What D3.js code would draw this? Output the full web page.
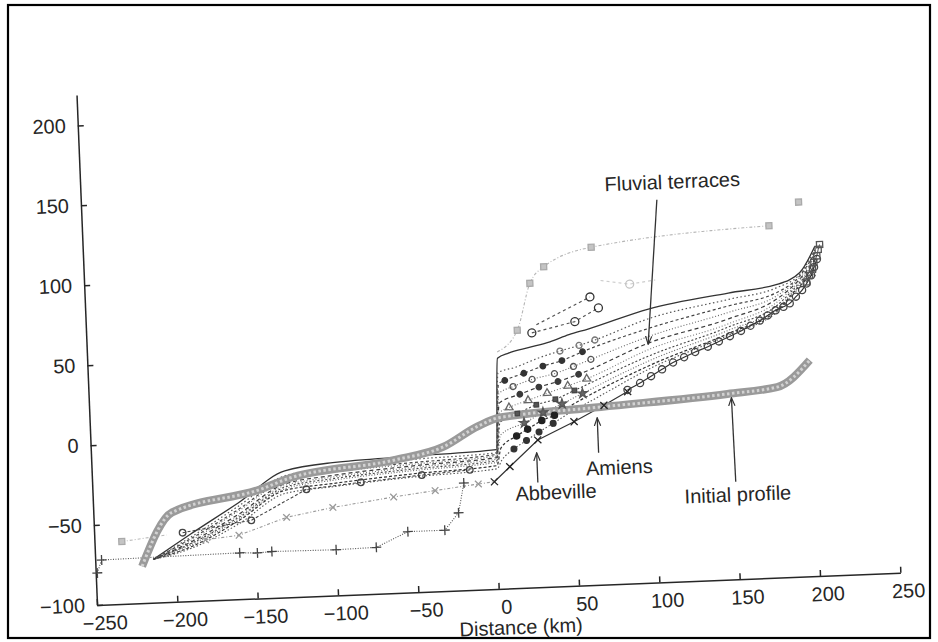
<!DOCTYPE html>
<html>
<head>
<meta charset="utf-8">
<script src="https://cdn.jsdelivr.net/npm/d3@7"></script>
<style>
body { margin: 0; background: #fff; }
svg text { font-family: "Liberation Sans", Arial, Helvetica, sans-serif; }
</style>
</head>
<body>
<div class="chart"></div>
<script>
// tick labels
const xTicks = [-250, -200, -150, -100, -50, 0, 50, 100, 150, 200, 250];
const yTicks = [-100, -50, 0, 50, 100, 150, 200];

// initial profile (thick grey band)
const initialProfile = [[-221, -77], [-201, -44], [-146, -32], [-125, -25], [-62, -17], [-31, -10], [-9, 2], [5, 7], [68, 11], [147, 16], [178, 19], [199, 35]];

// fluvial terraces, top to bottom
const terrace0 = [[-214, -73], [-190, -58], [-160, -40], [-130, -21], [-100, -17], [-50, -15], [2, -13], [5, 44], [12, 47], [25, 50], [38, 53], [50, 57], [62, 60], [100, 71], [150, 79], [180, 83], [195, 90], [205, 106]];
const terrace1 = [[-214, -73], [-190, -60], [-160, -42], [-130, -24], [-100, -20], [-50, -17], [2, -15], [5, 35], [16, 38], [30, 43], [44, 47], [56, 50], [66, 53], [100, 65], [150, 75], [180, 81], [195, 89], [205, 104]];
const terrace2 = [[-214, -73], [-190, -61], [-160, -44], [-130, -26], [-100, -22], [-50, -19], [2, -16], [5, 28], [9, 30], [21, 34], [33, 38], [45, 41], [58, 46], [100, 59], [150, 71], [180, 78], [195, 88], [205, 102]];
const terrace3 = [[-214, -73], [-190, -62], [-160, -45], [-130, -27], [-100, -23], [-50, -20], [2, -17], [5, 22], [14, 26], [26, 30], [40, 33], [52, 37], [63, 41], [100, 54], [150, 67], [180, 76], [195, 87], [205, 100]];
const terrace4 = [[-214, -73], [-190, -63], [-160, -47], [-130, -29], [-100, -25], [-50, -21], [2, -18], [5, 16], [18, 21], [30, 25], [42, 28], [55, 32], [100, 50], [150, 63], [180, 74], [195, 86], [205, 98]];
const terrace5 = [[-214, -73], [-190, -64], [-160, -48], [-130, -30], [-100, -26], [-50, -22], [2, -19], [5, 10], [11, 13], [23, 17], [35, 21], [48, 25], [60, 29], [100, 46], [150, 60], [180, 72], [195, 85], [205, 96]];
const terrace6 = [[-214, -73], [-190, -64], [-160, -49], [-130, -31], [-100, -27], [-50, -23], [2, -20], [5, 4], [16, 9], [28, 14], [40, 17], [52, 22], [100, 42], [150, 58], [180, 70], [195, 84], [205, 94]];
const terrace7 = [[-214, -73], [-190, -65], [-160, -50], [-130, -32], [-100, -28], [-50, -24], [2, -21], [5, -4], [20, 3], [32, 9], [44, 14], [57, 20], [100, 39], [150, 56], [180, 68], [195, 83], [205, 92]];
const terrace8 = [[-214, -73], [-190, -66], [-160, -51], [-130, -33], [-100, -30], [-50, -26], [2, -23], [5, -12], [15, -5], [22, -1], [31, 4], [39, 7], [52, 14], [100, 36], [150, 54], [180, 67], [195, 82], [205, 90]];
const terrace9 = [[-214, -73], [-190, -67], [-160, -53], [-130, -35], [-100, -32], [-50, -28], [2, -25], [5, -20], [13, -13], [21, -8], [29, -3], [38, 2], [50, 9], [62, 15], [100, 34], [150, 53], [180, 66], [195, 81], [205, 88]];

// other profiles
const circleLine = [[-195, -57], [-152, -51], [-117, -33], [-83, -30], [-45, -27], [-15, -25]];
const plusLine = [[-249, -80], [-246, -72], [-160, -71], [-149, -71.5], [-140, -71], [-100, -71.5], [-75, -71], [-55, -62], [-32, -62], [-23, -51.5], [-19, -33]];
const crossLeft = [[-181, -62], [-160, -60], [-130, -50], [-101, -45], [-63, -40], [-37, -37], [-10, -34], [0, -33]];
const crossRight = [[0, -33], [10, -24], [28, -8], [51, 2.5], [70, 12], [85, 20]];
const lowCircles = [[85, 21], [93, 25], [100, 29], [107, 33], [114, 37], [121, 40], [128, 43], [136, 46], [143, 49], [150, 52], [157, 55], [163, 58], [169, 61], [174, 64], [179, 67], [184, 69], [188, 71], [192, 75], [196, 79], [199, 83], [202, 88], [204, 93], [206, 98]];
const endSquares = [[199, 84], [201, 88], [203, 92], [204, 96], [206, 100], [207, 104], [208, 107]];
const greyUpper = [[5, 48], [18, 61], [27, 90], [36, 100], [66, 111], [177, 120]];
const greySingle = [[196, 134]];
const greyLeft = [[-233, -61], [-205, -58]];
const paleCircles = [[71, 90], [89, 87], [105, 89]];
const upperCircles1 = [[27, 59], [54, 65], [69, 73]];
const upperCircles2 = [[30, 64], [64, 80]];

// annotations
const notes = ['Fluvial terraces', 'Initial profile', 'Amiens', 'Abbeville'];
const noteAt = [[118, 150], [151, -47], [78, -27], [38, -41]];
const arrowFrom = [[108, 139], [150, -39], [65.5, -17.5], [27, -34.5]];
const arrowTo = [[99, 49], [149.4, 13.5], [65.5, 4.4], [27, -16]];

const w = 938;
const h = 642;

const svg = d3.select('.chart')
    .append('svg')
    .attr('width', w)
    .attr('height', h);

svg.append('rect')
    .attr('x', 8).attr('y', 5)
    .attr('width', 922).attr('height', 633)
    .attr('fill', 'none')
    .attr('stroke', '#000')
    .attr('stroke-width', 2.2);

const xScale = d3.scaleLinear().domain([-250, 250]).range([97, 901]);
const yScale = d3.scaleLinear().domain([-100, 200]).range([605, 125]);
const yAxisScale = d3.scaleLinear().domain([-100, 219]).range([yScale(-100), yScale(219)]);

// the scanned figure is slightly tilted
const g = svg.append('g').attr('transform', 'rotate(-2.3,97,605)');

const yAxis = d3.axisLeft(yAxisScale).tickValues(yTicks).tickSizeInner(-6).tickSizeOuter(0).tickPadding(12);
const xAxis = d3.axisBottom(xScale).tickValues(xTicks).tickSizeInner(-6).tickSizeOuter(0).tickPadding(11);

g.append('g')
    .attr('transform', 'translate(' + xScale(-250) + ',0)')
    .call(yAxis)
    .attr('font-size', 20)
    .attr('font-family', '"Liberation Sans", Arial, sans-serif')
    .attr('color', '#262626')
    .call(a => a.selectAll('path, line').attr('stroke-width', 1.5));

g.append('g')
    .attr('transform', 'translate(0,' + yScale(-100) + ')')
    .call(xAxis)
    .attr('font-size', 20)
    .attr('font-family', '"Liberation Sans", Arial, sans-serif')
    .attr('color', '#262626')
    .call(a => a.selectAll('path, line').attr('stroke-width', 1.5))
    .call(a => a.selectAll('text').attr('dx', 7));

g.append('text')
    .attr('x', xScale(13))
    .attr('y', yScale(-100) + 46)
    .attr('text-anchor', 'middle')
    .attr('font-size', 20)
    .attr('fill', '#262626')
    .text('Distance (km)');

const line = d3.line().x(d => xScale(d[0])).y(d => yScale(d[1]));
const smooth = d3.line().x(d => xScale(d[0])).y(d => yScale(d[1])).curve(d3.curveMonotoneX);

const symTimes = d3.symbolTimes || d3.symbolCross;
const symPlus = d3.symbolPlus || d3.symbolCross;

const styles = [
    { data: terrace0, stroke: '#333', width: 1.3, dash: null, curve: smooth },
    { data: terrace1, stroke: '#555', width: 1.2, dash: '1.5,2.5', curve: smooth, sym: d3.symbolCircle, size: 28, fill: 'none', ms: '#777', from: 40, to: 66 },
    { data: terrace2, stroke: '#444', width: 1.2, dash: '3,2.5', curve: smooth, sym: d3.symbolCircle, size: 24, fill: '#333', ms: '#333', from: 8, to: 60 },
    { data: terrace3, stroke: '#666', width: 1.1, dash: '1,2', curve: smooth, sym: d3.symbolCircle, size: 28, fill: 'none', ms: '#555', from: 12, to: 64 },
    { data: terrace4, stroke: '#3a3a3a', width: 1.2, dash: '4,3', curve: smooth, sym: d3.symbolCircle, size: 24, fill: '#3a3a3a', ms: '#3a3a3a', from: 16, to: 60 },
    { data: terrace5, stroke: '#777', width: 1.1, dash: '1,2', curve: smooth, sym: d3.symbolTriangle, size: 26, fill: 'none', ms: '#666', from: 10, to: 62 },
    { data: terrace6, stroke: '#444', width: 1.1, dash: '2,2', curve: smooth, sym: d3.symbolSquare, size: 20, fill: '#555', ms: '#444', from: 14, to: 55 },
    { data: terrace7, stroke: '#666', width: 1.1, dash: '1,1.8', curve: smooth, sym: d3.symbolStar, size: 28, fill: '#666', ms: '#555', from: 18, to: 60 },
    { data: terrace8, stroke: '#333', width: 1.2, dash: '3,2', curve: smooth, sym: d3.symbolCircle, size: 30, fill: '#222', ms: '#222', from: 12, to: 42 },
    { data: terrace9, stroke: '#555', width: 1.1, dash: '1.5,2', curve: smooth, sym: d3.symbolCircle, size: 26, fill: '#333', ms: '#333', from: 10, to: 40 },
    { data: circleLine, stroke: '#444', width: 1.1, dash: '3,2', curve: line, sym: d3.symbolCircle, size: 34, fill: 'none', ms: '#444', from: -250, to: 250 },
    { data: plusLine, stroke: '#555', width: 1.1, dash: '1,1.5', curve: line, sym: symPlus, size: 34, fill: 'none', ms: '#444', from: -250, to: 250 },
    { data: crossLeft, stroke: '#999', width: 1.1, dash: '3,2,1,2', curve: line, sym: symTimes, size: 30, fill: 'none', ms: '#999', from: -190, to: -5 },
    { data: crossRight, stroke: '#333', width: 1.2, dash: null, curve: line, sym: symTimes, size: 34, fill: 'none', ms: '#222', from: -250, to: 250 },
    { data: lowCircles, stroke: '#333', width: 1.2, dash: null, curve: smooth, sym: d3.symbolCircle, size: 40, fill: 'none', ms: '#444', from: -250, to: 250 },
    { data: endSquares, stroke: '#555', width: 1, dash: null, curve: line, sym: d3.symbolSquare, size: 38, fill: 'none', ms: '#555', from: -250, to: 250 },
    { data: greyUpper, stroke: '#b5b5b5', width: 1.1, dash: '3,2,1,2', curve: smooth, sym: d3.symbolSquare, size: 36, fill: '#c4c4c4', ms: '#aaa', from: 15, to: 250 },
    { data: greySingle, stroke: 'none', width: 0, dash: null, curve: line, sym: d3.symbolSquare, size: 36, fill: '#c4c4c4', ms: '#aaa', from: -250, to: 250 },
    { data: greyLeft, stroke: '#bbb', width: 1.1, dash: '3,2,1,2', curve: line, sym: d3.symbolSquare, size: 36, fill: '#c4c4c4', ms: '#aaa', from: -250, to: -230 },
    { data: paleCircles, stroke: '#ccc', width: 1.1, dash: '3,3', curve: line, sym: d3.symbolCircle, size: 50, fill: 'none', ms: '#c4c4c4', from: 80, to: 95 },
    { data: upperCircles1, stroke: '#555', width: 1.2, dash: '3,3', curve: line, sym: d3.symbolCircle, size: 50, fill: 'none', ms: '#333', from: -250, to: 250 },
    { data: upperCircles2, stroke: '#555', width: 1.2, dash: '3,3', curve: line, sym: d3.symbolCircle, size: 50, fill: 'none', ms: '#333', from: 60, to: 250 }
];

// lines
g.selectAll('.profile')
    .data(styles)
    .enter()
    .append('path')
    .attr('class', 'profile')
    .attr('d', s => s.curve(s.data))
    .attr('fill', 'none')
    .attr('stroke', s => s.stroke)
    .attr('stroke-width', s => s.width)
    .attr('stroke-dasharray', s => s.dash);

// initial profile band
g.append('path')
    .attr('d', smooth(initialProfile))
    .attr('fill', 'none')
    .attr('stroke', '#9a9a9a')
    .attr('stroke-width', 8)
    .attr('stroke-linejoin', 'round');
g.append('path')
    .attr('d', smooth(initialProfile))
    .attr('fill', 'none')
    .attr('stroke', '#d2d2d2')
    .attr('stroke-width', 3)
    .attr('stroke-dasharray', '2.5,2.5');

// markers
styles.filter(s => s.sym).forEach(s => {
    g.selectAll(null)
        .data(s.data.filter(d => d[0] >= s.from && d[0] <= s.to))
        .enter()
        .append('path')
        .attr('transform', d => 'translate(' + xScale(d[0]) + ',' + yScale(d[1]) + ')')
        .attr('d', d3.symbol().type(s.sym).size(s.size))
        .attr('fill', s.fill)
        .attr('stroke', s.ms)
        .attr('stroke-width', 1.3);
});

// annotations
svg.append('defs').append('marker')
    .attr('id', 'arrow')
    .attr('viewBox', '0 0 10 10')
    .attr('refX', 9).attr('refY', 5)
    .attr('markerWidth', 9).attr('markerHeight', 9)
    .attr('markerUnits', 'userSpaceOnUse')
    .attr('orient', 'auto')
    .append('path')
    .attr('d', 'M0,1.5 L9,5 L0,8.5')
    .attr('fill', 'none')
    .attr('stroke', '#333')
    .attr('stroke-width', 1.3);

g.selectAll('.arrow')
    .data(notes)
    .enter()
    .append('line')
    .attr('class', 'arrow')
    .attr('x1', (d, i) => xScale(arrowFrom[i][0]))
    .attr('y1', (d, i) => yScale(arrowFrom[i][1]))
    .attr('x2', (d, i) => xScale(arrowTo[i][0]))
    .attr('y2', (d, i) => yScale(arrowTo[i][1]))
    .attr('stroke', '#333')
    .attr('stroke-width', 1.3)
    .attr('marker-end', 'url(#arrow)');

g.selectAll('.note')
    .data(notes)
    .enter()
    .append('text')
    .attr('class', 'note')
    .attr('x', (d, i) => xScale(noteAt[i][0]))
    .attr('y', (d, i) => yScale(noteAt[i][1]))
    .attr('dy', '0.35em')
    .attr('text-anchor', 'middle')
    .attr('font-size', 20)
    .attr('fill', '#262626')
    .text(d => d);
</script>
</body>
</html>
